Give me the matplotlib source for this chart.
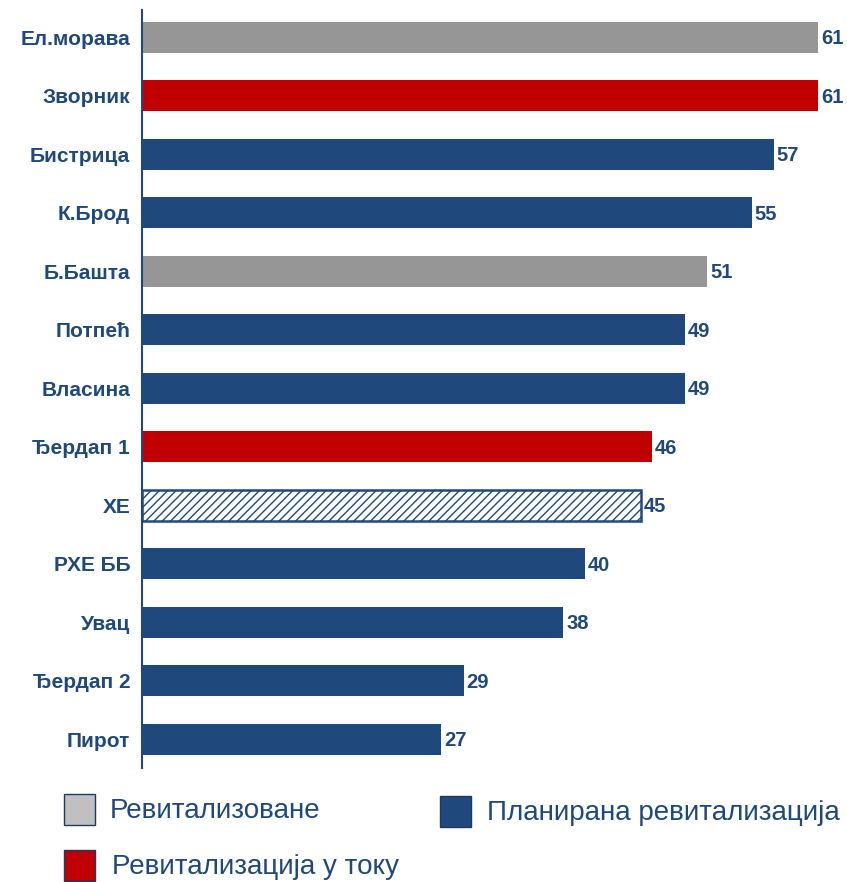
import matplotlib.pyplot as plt
from matplotlib.patches import Rectangle

# Data
plants = ["Ел.морава", "Зворник", "Бистрица", "К.Брод", "Б.Башта", "Потпећ",
          "Власина", "Ђердап 1", "ХЕ", "РХЕ ББ", "Увац", "Ђердап 2", "Пирот"]
values = [61, 61, 57, 55, 51, 49, 49, 46, 45, 40, 38, 29, 27]
status = ["done", "ongoing", "planned", "planned", "done", "planned",
          "planned", "ongoing", "hatch", "planned", "planned", "planned", "planned"]
legend_labels = ["Ревитализоване", "Планирана ревитализација", "Ревитализација у току"]

BLUE = "#1F497D"
GRAY = "#969696"
RED = "#C00000"
colors = {"done": GRAY, "ongoing": RED, "planned": BLUE, "hatch": "white"}

plt.rcParams['font.family'] = ['Liberation Sans', 'DejaVu Sans']
plt.rcParams['hatch.color'] = BLUE
plt.rcParams['hatch.linewidth'] = 1.0

fig = plt.figure(figsize=(8.47, 8.82), dpi=100)
ax = fig.add_axes([142 / 847, 1 - 768 / 882, 704 / 847, 758 / 882])

ypos = list(range(len(plants)))
for y, v, s in zip(ypos, values, status):
    if s == "hatch":
        ax.barh(y, v, height=0.53, color="white", edgecolor=BLUE,
                linewidth=1.8, hatch="////", zorder=2)
    else:
        ax.barh(y, v, height=0.53, color=colors[s], linewidth=0, zorder=2)
    ax.annotate(str(v), (v, y), xytext=(2, -1), textcoords="offset points",
                ha="left", va="center", fontsize=14.5, fontweight="bold", color=BLUE)

ax.set_xlim(0, 63.5)
ax.set_ylim(12.49, -0.47)
ax.set_yticks(ypos)
ax.set_yticklabels(plants, fontsize=15, fontweight="bold", color=BLUE)
ax.tick_params(axis="y", length=0, pad=8.5)
ax.set_xticks([])
for side in ["top", "right", "bottom"]:
    ax.spines[side].set_visible(False)
ax.spines["left"].set_color(BLUE)
ax.spines["left"].set_linewidth(1.5)

# Legend drawn by hand (pixel positions)
W, H = 847, 882
leg_items = [(64, 794, "#C0C0C0", legend_labels[0], 110),
             (440, 796, BLUE, legend_labels[1], 487),
             (64, 850, RED, legend_labels[2], 112)]
for x0, y0, c, txt, tx in leg_items:
    fig.add_artist(Rectangle((x0 / W, 1 - (y0 + 31) / H), 31 / W, 31 / H,
                             facecolor=c, edgecolor="#1F3864", linewidth=1.0,
                             transform=fig.transFigure))
    fig.text(tx / W, 1 - (y0 + 17) / H, txt, fontsize=20, color="#1F497D",
             ha="left", va="center")

fig.savefig("out.png", dpi=100)
